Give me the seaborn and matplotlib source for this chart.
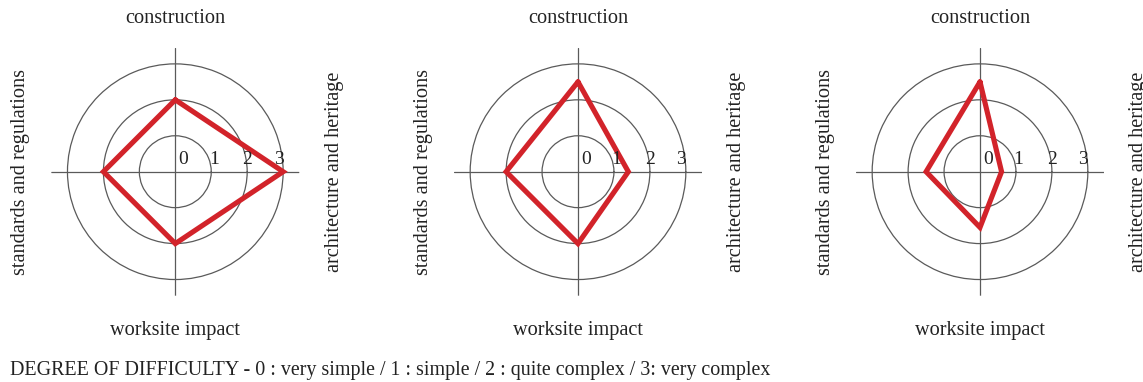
import numpy as np
import pandas as pd
import matplotlib
matplotlib.use("Agg")
import matplotlib.pyplot as plt
import seaborn as sns

# ---- data ----
categories = ["construction", "architecture and heritage", "worksite impact", "standards and regulations"]
angles_deg = [90, 0, 270, 180]
values_1 = [2.0, 3.0, 2.0, 2.0]
values_2 = [2.5, 1.4, 2.0, 2.0]
values_3 = [2.5, 0.6, 1.55, 1.5]
ring_levels = [1, 2, 3]
tick_labels = ["0", "1", "2", "3"]
caption = "DEGREE OF DIFFICULTY - 0 : very simple / 1 : simple / 2 : quite complex / 3: very complex"

sns.set_theme(style="white")
plt.rcParams["font.family"] = ["Liberation Serif", "DejaVu Serif"]

W, H = 1143, 382
fig = plt.figure(figsize=(W / 100, H / 100), dpi=100)
fig.patch.set_facecolor("white")

RED = "#d2232a"
GRID = "#5a5a5a"
TXT = "#222222"
RMAX = 3.45
RAD_PX = 124
centers_x = [175.3, 578.0, 980.0]
center_y = H - 171.7

label_pos_r = [0.22, 1.07, 2.0, 2.87]

for cx, vals in zip(centers_x, [values_1, values_2, values_3]):
    ax = fig.add_axes([(cx - RAD_PX) / W, (center_y - RAD_PX) / H, 2 * RAD_PX / W, 2 * RAD_PX / H],
                      projection="polar")
    ax.set_facecolor("none")
    ax.set_ylim(0, RMAX)
    ax.set_rgrids(ring_levels, labels=[""] * len(ring_levels))
    ax.set_thetagrids([0, 90, 180, 270], labels=[""] * 4)
    ax.grid(True, color=GRID, linewidth=0.9)
    ax.spines["polar"].set_visible(False)
    ax.tick_params(length=0)

    df = pd.DataFrame({"theta": np.deg2rad(angles_deg + angles_deg[:1]),
                       "r": vals + vals[:1]})
    sns.lineplot(data=df, x="theta", y="r", sort=False, estimator=None, ax=ax,
                 color=RED, linewidth=3.7, solid_joinstyle="miter", solid_capstyle="round")
    ax.set_xlabel("")
    ax.set_ylabel("")

    for lab, r in zip(tick_labels, label_pos_r):
        ax.annotate(lab, xy=(0, r), xytext=(0, 3.0), textcoords="offset points",
                    ha="center", va="bottom", fontsize=14, color=TXT)

    # category labels
    ax.text(np.pi / 2, 4.26, categories[0], ha="center", va="center", fontsize=14.6,
            color=TXT, clip_on=False)
    ax.text(0, 4.42, categories[1], ha="center", va="center", fontsize=14.6,
            color=TXT, rotation=90, clip_on=False)
    ax.text(3 * np.pi / 2, 4.43, categories[2], ha="center", va="center", fontsize=14.6,
            color=TXT, clip_on=False)
    ax.text(np.pi, 4.3, categories[3], ha="center", va="center", fontsize=14.6,
            color=TXT, rotation=90, clip_on=False)

fig.text(10 / W, 1 - 370 / H, caption, ha="left", va="center", fontsize=14.4, color=TXT)

fig.savefig("out.png", dpi=100, facecolor="white")
